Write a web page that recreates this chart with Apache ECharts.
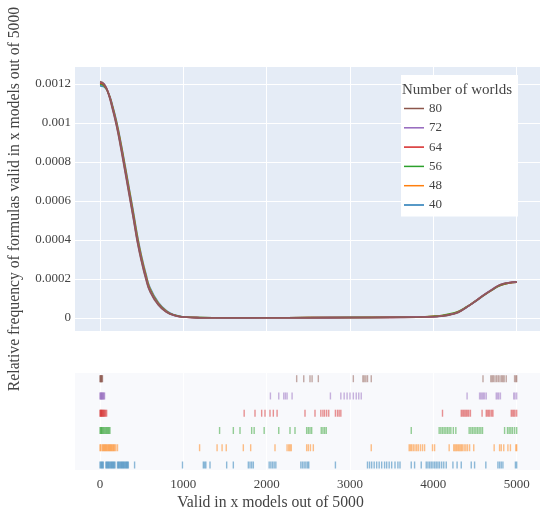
<!DOCTYPE html>
<html>
<head>
<meta charset="utf-8">
<script src="https://cdn.jsdelivr.net/npm/echarts@6/dist/echarts.min.js"></script>
<style>
html,body{margin:0;padding:0;background:#fff;}
#chart{width:541px;height:517px;}
</style>
</head>
<body>
<div id="chart"></div>
<script>
// ---- data ----
const groups = ['40', '48', '56', '64', '72', '80'];
const legendOrder = ['80', '72', '64', '56', '48', '40'];
const colors = ['#1f77b4', '#ff7f0e', '#2ca02c', '#d62728', '#9467bd', '#8c564b'];

const xTicks = [0, 1000, 2000, 3000, 4000, 5000];
const yTicks = [0, 0.0002, 0.0004, 0.0006, 0.0008, 0.001, 0.0012];

const kdeX = [0, 50, 100, 150, 200, 250, 300, 350, 400, 450, 500, 550, 600, 700, 800, 900, 1000, 1200, 1500, 2000, 2500, 3000, 3500, 3800, 4000, 4100, 4200, 4300, 4400, 4500, 4600, 4700, 4800, 4900, 5000];

const kde40 = [1.19e-3, 1.185e-3, 1.155e-3, 1.09e-3, 1.005e-3, 0.90e-3, 0.785e-3, 0.665e-3, 0.545e-3, 0.42e-3, 0.315e-3, 0.228e-3, 0.155e-3, 0.079e-3, 0.036e-3, 0.015e-3, 0.006e-3, 0.0018e-3, 0.001e-3, 0.0012e-3, 0.0018e-3, 0.0025e-3, 0.0035e-3, 0.0048e-3, 0.007e-3, 0.011e-3, 0.018e-3, 0.030e-3, 0.055e-3, 0.083e-3, 0.114e-3, 0.142e-3, 0.166e-3, 0.178e-3, 0.183e-3];
const kde48 = [1.20e-3, 1.19e-3, 1.155e-3, 1.086e-3, 1.00e-3, 0.895e-3, 0.779e-3, 0.659e-3, 0.538e-3, 0.413e-3, 0.308e-3, 0.222e-3, 0.150e-3, 0.076e-3, 0.034e-3, 0.014e-3, 0.006e-3, 0.0018e-3, 0.001e-3, 0.0013e-3, 0.002e-3, 0.0028e-3, 0.0038e-3, 0.0052e-3, 0.0085e-3, 0.0125e-3, 0.020e-3, 0.033e-3, 0.057e-3, 0.085e-3, 0.115e-3, 0.142e-3, 0.166e-3, 0.178e-3, 0.183e-3];
const kde56 = [1.20e-3, 1.19e-3, 1.154e-3, 1.083e-3, 0.995e-3, 0.89e-3, 0.772e-3, 0.652e-3, 0.531e-3, 0.406e-3, 0.301e-3, 0.216e-3, 0.146e-3, 0.073e-3, 0.033e-3, 0.014e-3, 0.006e-3, 0.0018e-3, 0.001e-3, 0.0013e-3, 0.002e-3, 0.003e-3, 0.004e-3, 0.0055e-3, 0.009e-3, 0.013e-3, 0.021e-3, 0.034e-3, 0.058e-3, 0.086e-3, 0.116e-3, 0.143e-3, 0.167e-3, 0.179e-3, 0.183e-3];
const kde64 = [1.205e-3, 1.195e-3, 1.153e-3, 1.079e-3, 0.99e-3, 0.882e-3, 0.764e-3, 0.643e-3, 0.522e-3, 0.397e-3, 0.295e-3, 0.21e-3, 0.141e-3, 0.07e-3, 0.031e-3, 0.013e-3, 0.005e-3, 0.0016e-3, 0.0009e-3, 0.0011e-3, 0.0017e-3, 0.0023e-3, 0.0034e-3, 0.0045e-3, 0.007e-3, 0.011e-3, 0.018e-3, 0.031e-3, 0.056e-3, 0.085e-3, 0.116e-3, 0.144e-3, 0.169e-3, 0.180e-3, 0.184e-3];
const kde72 = [1.21e-3, 1.20e-3, 1.152e-3, 1.075e-3, 0.985e-3, 0.876e-3, 0.757e-3, 0.636e-3, 0.515e-3, 0.391e-3, 0.29e-3, 0.205e-3, 0.138e-3, 0.068e-3, 0.030e-3, 0.012e-3, 0.005e-3, 0.0015e-3, 0.0008e-3, 0.001e-3, 0.0016e-3, 0.0022e-3, 0.0032e-3, 0.0042e-3, 0.0065e-3, 0.010e-3, 0.017e-3, 0.030e-3, 0.056e-3, 0.085e-3, 0.117e-3, 0.145e-3, 0.170e-3, 0.181e-3, 0.185e-3];
const kde80 = [1.212e-3, 1.20e-3, 1.15e-3, 1.07e-3, 0.98e-3, 0.87e-3, 0.75e-3, 0.63e-3, 0.51e-3, 0.385e-3, 0.285e-3, 0.20e-3, 0.135e-3, 0.066e-3, 0.029e-3, 0.012e-3, 0.005e-3, 0.0015e-3, 0.0008e-3, 0.001e-3, 0.0015e-3, 0.002e-3, 0.003e-3, 0.004e-3, 0.006e-3, 0.009e-3, 0.016e-3, 0.028e-3, 0.055e-3, 0.084e-3, 0.116e-3, 0.144e-3, 0.170e-3, 0.181e-3, 0.186e-3];

const rug40 = [0, 10, 20, 30, 40, 70, 80, 90, 100, 110, 120, 130, 140, 150, 160, 170, 180, 210, 220, 230, 240, 250, 260, 270, 280, 290, 300, 310, 320, 330, 340, 415, 990, 1240, 1255, 1270, 1320, 1520, 1600, 1780, 1800, 1820, 1840, 2030, 2050, 2070, 2090, 2110, 2410, 2430, 2450, 2470, 2490, 2505, 2825, 3210, 3235, 3260, 3290, 3320, 3350, 3380, 3415, 3440, 3470, 3500, 3540, 3575, 3600, 3735, 3775, 3855, 3915, 3935, 3955, 3975, 3995, 4015, 4035, 4055, 4075, 4100, 4125, 4155, 4235, 4285, 4335, 4455, 4495, 4630, 4775, 4795, 4815, 4835, 4985, 5000];
const rug48 = [0, 8, 25, 35, 45, 55, 65, 75, 85, 95, 105, 115, 125, 135, 145, 155, 165, 175, 190, 210, 1195, 1405, 1465, 1515, 1720, 1808, 2100, 2245, 2265, 2280, 2295, 2480, 2500, 2525, 2560, 3255, 3710, 3725, 3740, 3760, 3780, 3800, 3820, 3845, 3870, 3895, 3990, 4015, 4190, 4245, 4260, 4275, 4290, 4305, 4320, 4335, 4350, 4370, 4390, 4410, 4435, 4485, 4730, 4795, 4815, 4845, 4895, 4925, 4990, 5000];
const rug56 = [0, 8, 15, 22, 30, 40, 50, 60, 70, 80, 90, 100, 110, 120, 1435, 1600, 1680, 1820, 1850, 1970, 2145, 2280, 2340, 2480, 2500, 2520, 2540, 2655, 2675, 2695, 2715, 3735, 4070, 4090, 4110, 4130, 4150, 4170, 4190, 4210, 4240, 4270, 4430, 4450, 4470, 4490, 4510, 4530, 4550, 4570, 4590, 4855, 4890, 4910, 4930, 4950, 4975, 5000];
const rug64 = [0, 5, 10, 15, 20, 26, 32, 38, 45, 52, 60, 68, 80, 1730, 1860, 1940, 1980, 2040, 2080, 2125, 2460, 2580, 2650, 2675, 2695, 2720, 2745, 2825, 2850, 2870, 2890, 4110, 4335, 4350, 4365, 4380, 4395, 4410, 4425, 4445, 4585, 4635, 4650, 4665, 4680, 4700, 4715, 4935, 4950, 4965, 4980, 5000];
const rug72 = [0, 5, 10, 15, 20, 25, 30, 36, 42, 48, 55, 2045, 2145, 2205, 2225, 2245, 2305, 2765, 2890, 2930, 2965, 3000, 3040, 3075, 3105, 3135, 4405, 4555, 4570, 4585, 4600, 4615, 4635, 4755, 4770, 4785, 4805, 4965, 4980, 5000];
const rug80 = [0, 4, 8, 12, 16, 20, 25, 30, 2360, 2445, 2520, 2545, 2620, 3040, 3155, 3170, 3190, 3210, 3255, 4596, 4690, 4705, 4720, 4740, 4760, 4780, 4800, 4820, 4835, 4850, 4875, 4975, 4990, 5000];

const kdeList = [kde40, kde48, kde56, kde64, kde72, kde80];
const rugList = [rug40, rug48, rug56, rug64, rug72, rug80];

// ---- chart ----
const FONT = '"Liberation Serif", "DejaVu Serif", serif';
const chart = echarts.init(document.getElementById('chart'), null, { renderer: 'canvas' });

const series = [];
groups.forEach((g, i) => {
  series.push({
    name: g,
    type: 'line',
    xAxisIndex: 0, yAxisIndex: 0,
    data: kdeX.map((x, j) => [x, kdeList[i][j]]),
    symbol: 'none',
    smooth: 0.5,
    lineStyle: { width: 1.6, color: colors[i], opacity: 0.85 },
    itemStyle: { color: colors[i] },
    z: 2 + i
  });
});
groups.forEach((g, i) => {
  series.push({
    name: g,
    type: 'scatter',
    xAxisIndex: 1, yAxisIndex: 1,
    data: rugList[i].map(x => [x, i]),
    symbol: 'rect',
    symbolSize: [1.4, 7],
    itemStyle: { color: colors[i], opacity: 0.5 },
    z: 2
  });
});

const option = {
  animation: false,
  backgroundColor: '#ffffff',
  textStyle: { fontFamily: FONT },
  title: {
    text: 'Number of worlds',
    left: 402, top: 83,
    padding: 0,
    textStyle: { fontFamily: FONT, fontSize: 15, fontWeight: 'normal', color: '#444' }
  },
  legend: {
    data: legendOrder,
    orient: 'vertical',
    left: 401, top: 75,
    padding: [27, 76, 5, 3],
    backgroundColor: '#ffffff',
    icon: 'rect',
    itemWidth: 20, itemHeight: 1.5,
    itemGap: 6.3,
    textStyle: { fontFamily: FONT, fontSize: 13, color: '#444' }
  },
  grid: [
    { left: 75, top: 67, width: 465, height: 264, show: true, backgroundColor: '#E5ECF6', borderWidth: 0 },
    { left: 75, top: 373, width: 465, height: 97, show: true, backgroundColor: '#f8f9fc', borderWidth: 0 }
  ],
  xAxis: [
    {
      type: 'value', gridIndex: 0, min: -300, max: 5280,
      axisLine: { show: false }, axisTick: { show: false, customValues: xTicks },
      axisLabel: { show: false, customValues: xTicks },
      splitLine: { show: true, lineStyle: { color: '#ffffff', width: 1 } }
    },
    {
      type: 'value', gridIndex: 1, min: -300, max: 5280,
      axisLine: { show: false }, axisTick: { show: false, customValues: xTicks },
      axisLabel: { show: true, customValues: xTicks, margin: 8, fontFamily: FONT, fontSize: 13, color: '#444',
        formatter: v => String(v) },
      splitLine: { show: true, lineStyle: { color: '#ffffff', width: 1 } }
    }
  ],
  yAxis: [
    {
      type: 'value', gridIndex: 0, min: -0.0000667, max: 0.001287,
      axisLine: { show: false }, axisTick: { show: false, customValues: yTicks },
      axisLabel: { show: true, customValues: yTicks, margin: 4, fontFamily: FONT, fontSize: 13, color: '#444',
        formatter: v => String(v) },
      splitLine: { show: true, lineStyle: { color: '#ffffff', width: 1 } }
    },
    {
      type: 'value', gridIndex: 1, min: -0.29, max: 5.33,
      axisLine: { show: false }, axisTick: { show: false }, axisLabel: { show: false },
      splitLine: { show: false }
    }
  ],
  graphic: [
    {
      type: 'text', left: 'center', top: 495,
      style: { text: 'Valid in x models out of 5000', fontFamily: FONT, fontSize: 15.7, fill: '#444' }
    },
    {
      type: 'text',
      x: 15, y: 199, rotation: Math.PI / 2,
      style: { text: 'Relative frequency of formulas valid in x models out of 5000', fontFamily: FONT, fontSize: 15.7, fill: '#444',
        align: 'center', verticalAlign: 'middle' }
    }
  ],
  series: series
};
chart.setOption(option);
</script>
</body>
</html>
